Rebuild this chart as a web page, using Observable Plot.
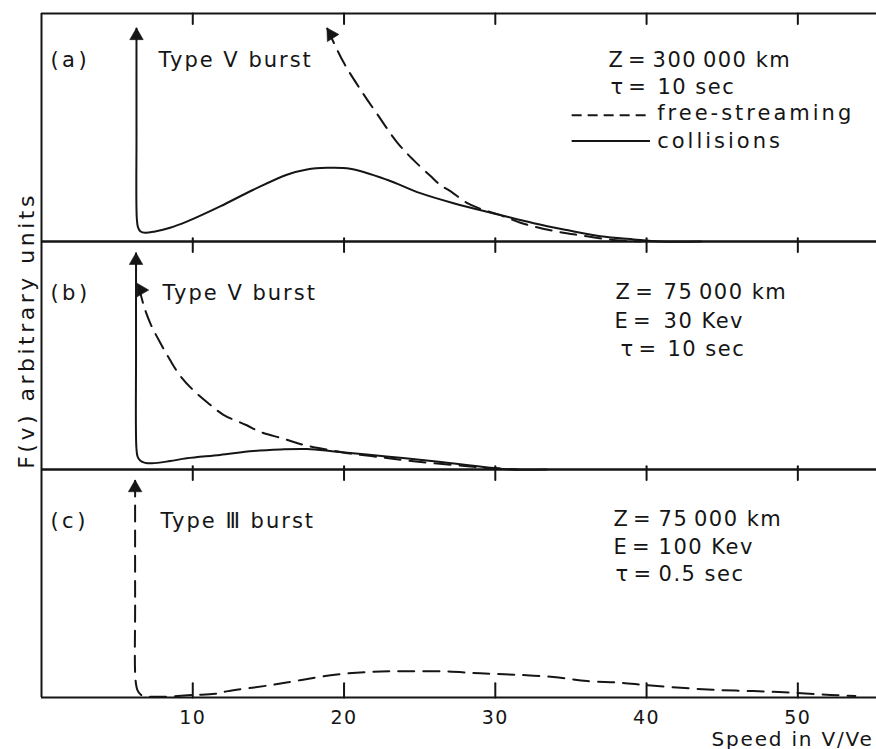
<!DOCTYPE html>
<html>
<head>
<meta charset="utf-8">
<script src="https://cdn.jsdelivr.net/npm/d3@7"></script>
<script src="https://cdn.jsdelivr.net/npm/@observablehq/plot@0.6"></script>
<style>
  body { margin: 0; background: #fff; }
  #chart { background: #fff; }
  #chart svg { display: block; font-family: "DejaVu Sans", sans-serif; background: #fff; }
</style>
</head>
<body>
<div id="chart"></div>
<script>
// ---------- data ----------
const panels = ["a", "b", "c"];
const xTicks = [10, 20, 30, 40, 50];
const panelLabels = ["(a)", "(b)", "(c)"];
const burstLabels = ["Type V burst", "Type V burst", "Type \u2162 burst"];
const paramKeysA = ["Z\u2009=", "\u03c4\u2009="];
const paramValsA = ["300\u2009000 km", "10 sec"];
const paramKeysB = ["Z\u2009=", "E\u2009=", "\u03c4\u2009="];
const paramValsB = ["75\u2009000 km", "30 Kev", "10 sec"];
const paramKeysC = ["Z\u2009=", "E\u2009=", "\u03c4\u2009="];
const paramValsC = ["75\u2009000 km", "100 Kev", "0.5 sec"];
const legendLabels = ["free-streaming", "collisions"];
const xLabel = "Speed in V/Ve";
const yLabel = "F(v) arbitrary units";

// (a) Z = 300 000 km, collisions (solid)
const vAColl = [6.28, 6.28, 6.3, 6.38, 6.55, 6.85, 7.51, 8.5, 9.6, 11.81, 14.01, 16.22, 17.55, 18.87, 20.4, 22.84, 25.04, 27.24, 30.33, 32.54, 34.75, 36.95, 39.15, 40.9, 43.6];
const fAColl = [0.934, 0.478, 0.102, 0.062, 0.044, 0.038, 0.044, 0.06, 0.087, 0.154, 0.227, 0.293, 0.316, 0.323, 0.319, 0.271, 0.212, 0.168, 0.116, 0.08, 0.05, 0.023, 0.009, 0, 0];
// (a) free-streaming (dashed)
const vAFree = [18.89, 19.95, 21.07, 22.2, 23.52, 24.58, 25.7, 26.36, 27.03, 28.15, 29.0, 30.53, 31.66, 33.64, 35.63, 37.81, 39.6];
const fAFree = [0.934, 0.788, 0.668, 0.558, 0.434, 0.358, 0.288, 0.248, 0.221, 0.168, 0.144, 0.111, 0.082, 0.049, 0.027, 0.007, 0];
// (b) collisions (solid)
const vBColl = [6.25, 6.25, 6.27, 6.35, 6.52, 6.85, 7.31, 8.5, 9.6, 11.8, 14.0, 15.8, 17.55, 19.5, 22.8, 26.1, 29.5, 31.0, 33.4];
const fBColl = [0.948, 0.513, 0.1, 0.057, 0.039, 0.029, 0.027, 0.037, 0.049, 0.064, 0.081, 0.088, 0.09, 0.078, 0.057, 0.035, 0.009, 0, 0];
// (b) free-streaming (dashed)
const vBFree = [6.45, 6.74, 7.2, 7.84, 8.5, 9.16, 10, 10.93, 12.03, 13.57, 14.46, 16.0, 17.1, 18.2, 19.5, 20.4, 22.4, 24.6, 27.2, 29.5, 31.5];
const fBFree = [0.80, 0.723, 0.64, 0.557, 0.48, 0.412, 0.35, 0.296, 0.24, 0.194, 0.165, 0.135, 0.112, 0.095, 0.08, 0.07, 0.054, 0.036, 0.02, 0.007, 0];
// (c) Type III, dashed
const vCFree = [6.19, 6.19, 6.22, 6.35, 6.55, 6.73, 7.84, 10.02, 11.48, 12.34, 15.12, 17.1, 19.53, 21.93, 24.16, 26.76, 29.01, 31.26, 33.84, 36.07, 38.2, 40.0, 42.0, 44.39, 47.07, 49.62, 52.17, 53.8];
const fCFree = [0.951, 0.424, 0.074, 0.031, 0.013, 0.007, 0.003, 0.011, 0.016, 0.028, 0.054, 0.076, 0.101, 0.113, 0.115, 0.114, 0.106, 0.1, 0.09, 0.072, 0.065, 0.054, 0.044, 0.034, 0.028, 0.021, 0.011, 0.007];

// arrow heads (tips)
const arrowPanel = ["a", "a", "b", "b", "c"];
const arrowV = [6.28, 18.89, 6.25, 7.05, 6.19];
const arrowF = [0.934, 0.934, 0.948, 0.787, 0.951];
const arrowRotate = [0, -32, 0, 90, 0];

// ---------- tables ----------
const rows = (panel, vs, fs) => vs.map((v, i) => ({panel, v, f: fs[i]}));
const solidRows = [...rows("a", vAColl, fAColl), ...rows("b", vBColl, fBColl)];
const dashedRows = [...rows("a", vAFree, fAFree), ...rows("b", vBFree, fBFree), ...rows("c", vCFree, fCFree)];

// tick segments (each tick = two points joined by a line), lengths in the normalised f units
const tickLen = {top: 0.046, mid: 0.014, bottom: 0.062};
const tickSegs = panels.flatMap(p => xTicks.flatMap(v => {
  const lb = p === "c" ? tickLen.bottom : tickLen.mid;
  return [
    {panel: p, v, f: 1, k: `${p}${v}t`}, {panel: p, v, f: 1 - tickLen.top, k: `${p}${v}t`},
    {panel: p, v, f: 0, k: `${p}${v}b`}, {panel: p, v, f: lb, k: `${p}${v}b`}
  ];
}));

// ---------- layout ----------
const INK = "#151515";
const FONT = "DejaVu Sans, sans-serif";
const FS = 21;
function ann(panel, text, x, y, opts = {}) {
  return Plot.text([{panel, text}], {
    fy: "panel", x, y, text: "text", textAnchor: "start", lineAnchor: "bottom",
    fill: INK, fontSize: FS, fontFamily: FONT, ...opts
  });
}
const labelY = [0.765, 0.743, 0.742];
const burstX = [7.73, 8.0, 7.87];
const keyX = {a: [37.48, 37.61], b: [37.95, 37.88, 38.28], c: [37.81, 37.81, 37.95]};
const valX = {a: [40.4, 40.72], b: [41.12, 41.12, 41.38], c: [40.79, 40.79, 40.79]};
const rowY = {a: [0.765, 0.646], b: [0.748, 0.622, 0.5], c: [0.751, 0.629, 0.511]};
const keys = {a: paramKeysA, b: paramKeysB, c: paramKeysC};
const vals = {a: paramValsA, b: paramValsB, c: paramValsC};

const marks = [];
// frame
marks.push(Plot.ruleX([0], {stroke: INK, strokeWidth: 2}));
marks.push(Plot.ruleY([0, 1], {stroke: INK, strokeWidth: 2}));
// curves
marks.push(Plot.line(solidRows, {fy: "panel", x: "v", y: "f", z: "panel", stroke: INK, strokeWidth: 2, curve: "catmull-rom"}));
marks.push(Plot.line(dashedRows, {fy: "panel", x: "v", y: "f", z: "panel", stroke: INK, strokeWidth: 2, strokeDasharray: "16,9", curve: "catmull-rom"}));
// arrow heads
arrowPanel.forEach((p, i) => {
  const th = arrowRotate[i] * Math.PI / 180, c = 7.2;
  marks.push(Plot.dot([{panel: p, v: arrowV[i], f: arrowF[i]}], {
    fy: "panel", x: "v", y: "f", symbol: "triangle", r: 5, fill: INK, stroke: INK, strokeWidth: 0.6,
    rotate: arrowRotate[i], dx: -c * Math.sin(th), dy: c * Math.cos(th)
  }));
});
// panel texts
panels.forEach((p, i) => {
  marks.push(ann(p, panelLabels[i], 0.59, labelY[i]));
  marks.push(ann(p, burstLabels[i], burstX[i], labelY[i]));
  keys[p].forEach((k, j) => {
    marks.push(ann(p, k, keyX[p][j], rowY[p][j]));
    marks.push(ann(p, vals[p][j], valX[p][j], rowY[p][j]));
  });
});
// legend in panel a
marks.push(Plot.ruleY([{panel: "a"}], {fy: "panel", y: 0.554, x1: 35.08, x2: 40.26, stroke: INK, strokeWidth: 2, strokeDasharray: "10,6"}));
marks.push(Plot.ruleY([{panel: "a"}], {fy: "panel", y: 0.441, x1: 35.08, x2: 40.26, stroke: INK, strokeWidth: 2}));
marks.push(ann("a", legendLabels[0], 40.7, 0.535));
marks.push(ann("a", legendLabels[1], 40.7, 0.412));
// axes labels
marks.push(Plot.axisX(xTicks, {anchor: "bottom", tickSize: 0, tickPadding: 12.5, fontSize: 19, fontFamily: FONT, fill: INK}));
marks.push(Plot.text([{panel: "c", text: xLabel}], {fy: "panel", text: "text", frameAnchor: "bottom-right", textAnchor: "end", lineAnchor: "bottom", dy: 48, dx: -3, fontSize: 20, fontFamily: FONT, fill: INK}));
marks.push(Plot.text([{panel: "b", text: yLabel}], {fy: "panel", text: "text", frameAnchor: "left", rotate: -90, textAnchor: "middle", lineAnchor: "bottom", dx: -8, dy: -25, fontSize: 22, fontFamily: FONT, fill: INK}));
// ticks last, so that nothing is painted over them
marks.push(Plot.line(tickSegs, {fy: "panel", x: "v", y: "f", z: "k", stroke: INK, strokeWidth: 2}));

const chart = Plot.plot({
  width: 876,
  height: 749,
  marginTop: 12,
  marginBottom: 52,
  marginLeft: 41,
  marginRight: 0,
  x: {domain: [0, 55.2], axis: null, label: null},
  y: {domain: [0, 1], axis: null, label: null},
  fy: {domain: panels, padding: 0, axis: null, label: null},
  marks
});

// letter spacing to match the spaced lettering of the original
const spacing = new Map([
  ...legendLabels.map(t => [t, "3px"]),
  ...panelLabels.map(t => [t, "3.5px"]),
  ...burstLabels.map(t => [t, "2px"]),
  ...[...paramKeysA, ...paramKeysB, ...paramKeysC].map(t => [t, "0.5px"]),
  [xLabel, "1.8px"],
  [yLabel, "3.5px"]
]);
chart.querySelectorAll("text").forEach(el => {
  el.setAttribute("letter-spacing", spacing.get(el.textContent) ?? "1.5px");
});

document.getElementById("chart").appendChild(chart);
</script>
</body>
</html>
